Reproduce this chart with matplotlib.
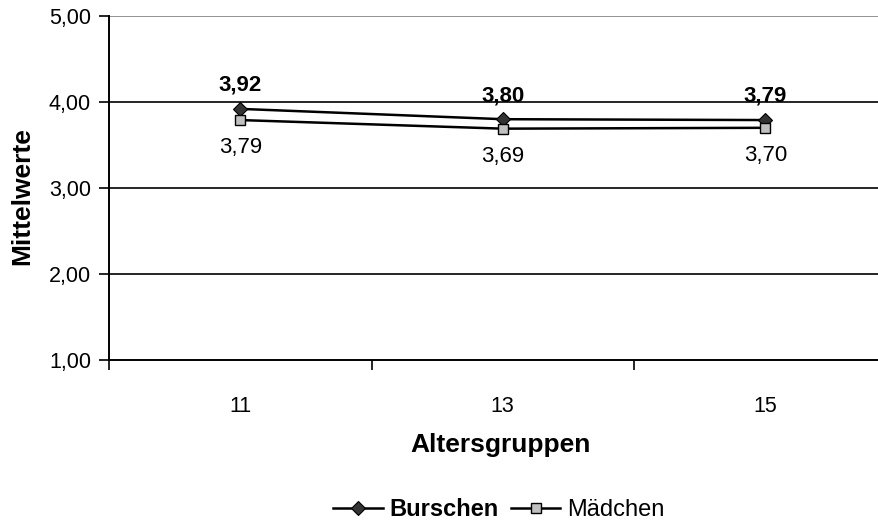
import matplotlib.pyplot as plt
import numpy as np

plt.rcParams['font.family'] = ['Liberation Sans', 'DejaVu Sans']

# Mean values per age group
altersgruppen = ['11', '13', '15']
burschen = [3.92, 3.80, 3.79]
maedchen = [3.79, 3.69, 3.70]
y_ticks = [1, 2, 3, 4, 5]

x = np.arange(len(altersgruppen))

fig = plt.figure(figsize=(8.79, 5.23), dpi=100)
# plot area runs past the right edge of the figure
ax = fig.add_axes([109 / 879, 1 - 360 / 523, 787.5 / 879, 344 / 523])

# horizontal gridlines (top one grey like the plot frame)
for v in y_ticks[1:]:
    ax.axhline(v, color='#808080' if v == 5 else 'black', lw=1.2, zorder=1)

ax.plot(x, burschen, color='black', lw=1.8, marker='D', markersize=7.5,
        markerfacecolor='#333333', markeredgecolor='black', markeredgewidth=0.8,
        label='Burschen', zorder=3)
ax.plot(x, maedchen, color='black', lw=1.8, marker='s', markersize=7.5,
        markerfacecolor='#c0c0c0', markeredgecolor='black', markeredgewidth=1.0,
        label='Mädchen', zorder=3)

for xi, v in zip(x, burschen):
    ax.annotate(f'{v:.2f}'.replace('.', ','), (xi, v), xytext=(0, 17),
                textcoords='offset points', ha='center', va='center',
                fontsize=16, fontweight='bold')
for xi, v in zip(x, maedchen):
    ax.annotate(f'{v:.2f}'.replace('.', ','), (xi, v), xytext=(0, -20),
                textcoords='offset points', ha='center', va='center',
                fontsize=16)

ax.set_xlim(-0.5, 2.5)
ax.set_ylim(1, 5)

ax.set_yticks(y_ticks)
ax.set_yticklabels([f'{v:.2f}'.replace('.', ',') for v in y_ticks], fontsize=15.5)
ax.set_xticks(x)
ax.set_xticklabels(altersgruppen, fontsize=15.5)
ax.tick_params(axis='x', which='major', length=0, pad=26)
ax.set_xticks([-0.5, 0.5, 1.5], minor=True)
ax.tick_params(axis='x', which='minor', length=7, width=1.2, direction='out')
ax.tick_params(axis='y', length=7, width=1.2, direction='out', pad=6)

for side in ['top', 'right']:
    ax.spines[side].set_visible(False)
ax.spines['left'].set_linewidth(1.4)
ax.spines['bottom'].set_linewidth(1.4)

fig.text(22 / 879, 1 - 196 / 523, 'Mittelwerte', rotation=90, ha='center',
         va='center', fontsize=19, fontweight='bold')
fig.text(501 / 879, 1 - 445 / 523, 'Altersgruppen', ha='center', va='center',
         fontsize=19, fontweight='bold')

leg = fig.legend(loc='center', bbox_to_anchor=(499 / 879, 1 - 510 / 523),
                 ncol=2, frameon=False, fontsize=17, handlelength=2.1,
                 handletextpad=0.3, columnspacing=0.5)
leg.get_texts()[0].set_fontweight('bold')

fig.savefig('out.png', dpi=100)
